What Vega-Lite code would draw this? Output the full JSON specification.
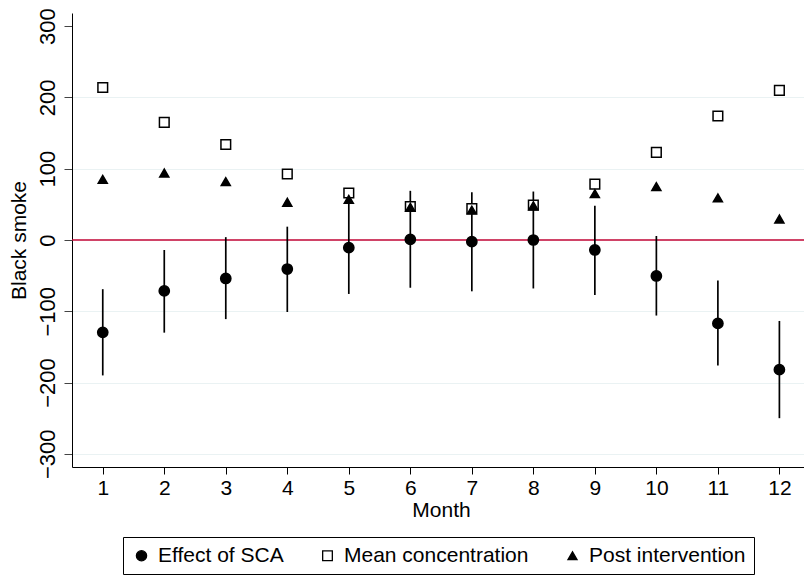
{
  "$schema": "https://vega.github.io/schema/vega-lite/v6.json",
  "autosize": {"type": "none"},
  "width": 732,
  "height": 454,
  "padding": {"left": 72, "top": 13, "right": 0, "bottom": 109},
  "background": "white",
  "config": {
    "font": "Liberation Sans",
    "view": {"stroke": null},
    "axis": {"domainColor": "black", "tickColor": "black", "labelColor": "black", "titleColor": "black", "titleFontWeight": "normal"}
  },
  "datasets": {
    "ci": [
      {"month": 1, "lo": -190, "hi": -69},
      {"month": 2, "lo": -130, "hi": -14},
      {"month": 3, "lo": -111, "hi": 4},
      {"month": 4, "lo": -101, "hi": 18.7},
      {"month": 5, "lo": -75.7, "hi": 55},
      {"month": 6, "lo": -67, "hi": 69},
      {"month": 7, "lo": -72, "hi": 67},
      {"month": 8, "lo": -68, "hi": 68},
      {"month": 9, "lo": -77, "hi": 48},
      {"month": 10, "lo": -106, "hi": 5.6},
      {"month": 11, "lo": -176, "hi": -57},
      {"month": 12, "lo": -250, "hi": -113.6}
    ],
    "points": [
      {"month": 1, "series": "Effect of SCA", "value": -129.5},
      {"month": 2, "series": "Effect of SCA", "value": -71.5},
      {"month": 3, "series": "Effect of SCA", "value": -54},
      {"month": 4, "series": "Effect of SCA", "value": -40.7},
      {"month": 5, "series": "Effect of SCA", "value": -10.8},
      {"month": 6, "series": "Effect of SCA", "value": 1},
      {"month": 7, "series": "Effect of SCA", "value": -2.3},
      {"month": 8, "series": "Effect of SCA", "value": 0},
      {"month": 9, "series": "Effect of SCA", "value": -14},
      {"month": 10, "series": "Effect of SCA", "value": -50.5},
      {"month": 11, "series": "Effect of SCA", "value": -117},
      {"month": 12, "series": "Effect of SCA", "value": -182},
      {"month": 1, "series": "Mean concentration", "value": 214},
      {"month": 2, "series": "Mean concentration", "value": 165},
      {"month": 3, "series": "Mean concentration", "value": 134},
      {"month": 4, "series": "Mean concentration", "value": 92.6},
      {"month": 5, "series": "Mean concentration", "value": 66},
      {"month": 6, "series": "Mean concentration", "value": 47},
      {"month": 7, "series": "Mean concentration", "value": 44},
      {"month": 8, "series": "Mean concentration", "value": 49},
      {"month": 9, "series": "Mean concentration", "value": 78.5},
      {"month": 10, "series": "Mean concentration", "value": 123},
      {"month": 11, "series": "Mean concentration", "value": 174},
      {"month": 12, "series": "Mean concentration", "value": 210},
      {"month": 1, "series": "Post intervention", "value": 85},
      {"month": 2, "series": "Post intervention", "value": 94},
      {"month": 3, "series": "Post intervention", "value": 82},
      {"month": 4, "series": "Post intervention", "value": 53},
      {"month": 5, "series": "Post intervention", "value": 57},
      {"month": 6, "series": "Post intervention", "value": 46},
      {"month": 7, "series": "Post intervention", "value": 42},
      {"month": 8, "series": "Post intervention", "value": 48},
      {"month": 9, "series": "Post intervention", "value": 65},
      {"month": 10, "series": "Post intervention", "value": 75},
      {"month": 11, "series": "Post intervention", "value": 59},
      {"month": 12, "series": "Post intervention", "value": 29.5}
    ],
    "zero": [{"y": 0}]
  },
  "layer": [
    {
      "data": {"name": "zero"},
      "mark": {"type": "rule", "color": "#c10534", "strokeWidth": 1.6},
      "encoding": {
        "y": {
          "field": "y", "type": "quantitative",
          "scale": {"domain": [-318.5, 318.5], "nice": false, "zero": false},
          "axis": {
            "title": "Black smoke",
            "titleFontSize": 21,
            "titlePadding": 7,
            "values": [-300, -200, -100, 0, 100, 200, 300],
            "labelAngle": -90,
            "labelAlign": "center",
            "labelBaseline": "alphabetic",
            "labelFontSize": 22,
            "labelPadding": 10,
            "tickSize": 8,
            "tickColor": "#444444",
            "grid": true,
            "gridColor": "#eaf2f3",
            "gridWidth": 1.2,
            "gridOpacity": {"condition": {"test": "datum.value == 0 || datum.value == 300", "value": 0}, "value": 1}
          }
        }
      }
    },
    {
      "data": {"name": "ci"},
      "mark": {"type": "rule", "color": "black", "strokeWidth": 1.7},
      "encoding": {
        "x": {
          "field": "month", "type": "quantitative",
          "scale": {"domain": [0.5, 12.4], "nice": false, "zero": false},
          "axis": {
            "title": "Month",
            "titleFontSize": 21,
            "titleX": 369,
            "titlePadding": 1,
            "values": [1, 2, 3, 4, 5, 6, 7, 8, 9, 10, 11, 12],
            "format": "d",
            "labelFontSize": 21,
            "labelPadding": 3,
            "tickSize": 7,
            "grid": false,
            "labelFlush": false
          }
        },
        "y": {"field": "lo", "type": "quantitative"},
        "y2": {"field": "hi"}
      }
    },
    {
      "data": {"name": "points"},
      "mark": {"type": "point", "filled": false, "stroke": "black", "strokeWidth": 1.5, "opacity": 1},
      "encoding": {
        "x": {"field": "month", "type": "quantitative"},
        "y": {"field": "value", "type": "quantitative"},
        "shape": {
          "field": "series", "type": "nominal",
          "scale": {"domain": ["Effect of SCA", "Mean concentration", "Post intervention"], "range": ["circle", "square", "triangle-up"]},
          "legend": {
            "title": null,
            "orient": "none",
            "legendX": 51,
            "legendY": 524,
            "direction": "horizontal",
            "labelFontSize": 21,
            "labelColor": "black",
            "labelLimit": 400,
            "labelOffset": 6,
            "columnPadding": 33,
            "padding": 8,
            "strokeColor": "black",
            "fillColor": "white",
            "symbolStrokeWidth": 1.3,
            "symbolStrokeColor": "black"
          }
        },
        "fill": {
          "field": "series", "type": "nominal",
          "scale": {"domain": ["Effect of SCA", "Mean concentration", "Post intervention"], "range": ["black", "white", "black"]}
        },
        "size": {
          "field": "series", "type": "nominal",
          "scale": {"domain": ["Effect of SCA", "Mean concentration", "Post intervention"], "range": [105, 82, 170]}
        }
      }
    }
  ]
}
